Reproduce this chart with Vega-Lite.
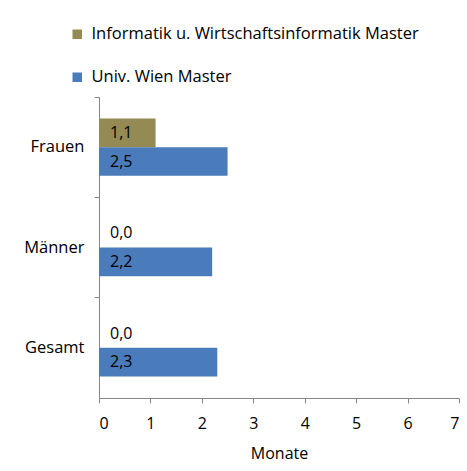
{
  "$schema": "https://vega.github.io/schema/vega-lite/v6.json",
  "width": 360,
  "height": 301,
  "autosize": {"type": "none"},
  "padding": {"left": 99, "top": 97, "right": 8, "bottom": 73},
  "config": {
    "locale": {"number": {"decimal": ",", "thousands": ".", "grouping": [3], "currency": ["", " €"]}},
    "view": {"stroke": null},
    "font": "Open Sans"
  },
  "data": {
    "values": [
      {"Gruppe": "Frauen", "Studium": "Informatik u. Wirtschaftsinformatik Master", "Monate": 1.1},
      {"Gruppe": "Frauen", "Studium": "Univ. Wien Master", "Monate": 2.5},
      {"Gruppe": "Männer", "Studium": "Informatik u. Wirtschaftsinformatik Master", "Monate": 0.0},
      {"Gruppe": "Männer", "Studium": "Univ. Wien Master", "Monate": 2.2},
      {"Gruppe": "Gesamt", "Studium": "Informatik u. Wirtschaftsinformatik Master", "Monate": 0.0},
      {"Gruppe": "Gesamt", "Studium": "Univ. Wien Master", "Monate": 2.3}
    ]
  },
  "encoding": {
    "y": {
      "field": "Gruppe", "type": "nominal", "sort": ["Frauen", "Männer", "Gesamt"],
      "scale": {"paddingInner": 0, "paddingOuter": 0},
      "axis": {
        "title": null, "domainColor": "#868686", "tickColor": "#868686", "tickSize": 5,
        "bandPosition": 0, "labelPadding": 10, "labelFontSize": 16.5, "labelColor": "#000000"
      }
    },
    "yOffset": {
      "field": "Studium", "type": "nominal",
      "sort": ["Informatik u. Wirtschaftsinformatik Master", "Univ. Wien Master"],
      "scale": {"paddingInner": 0, "paddingOuter": 0.75}
    }
  },
  "layer": [
    {
      "mark": {"type": "bar"},
      "encoding": {
        "x": {
          "field": "Monate", "type": "quantitative",
          "scale": {"domain": [0, 7], "nice": false},
          "axis": {
            "values": [0, 1, 2, 3, 4, 5, 6, 7], "grid": false, "format": "d",
            "domainColor": "#868686", "tickColor": "#868686", "tickSize": 5,
            "labelPadding": 12, "labelFontSize": 16, "labelColor": "#000000",
            "title": "Monate", "titleFontSize": 16, "titleFontWeight": "normal",
            "titleColor": "#000000", "titlePadding": 14
          }
        },
        "color": {
          "field": "Studium", "type": "nominal",
          "scale": {
            "domain": ["Informatik u. Wirtschaftsinformatik Master", "Univ. Wien Master"],
            "range": ["#948A54", "#4A7BBA"]
          },
          "legend": {
            "title": null, "orient": "none", "legendX": -30, "legendY": -71,
            "direction": "vertical", "symbolType": "square", "symbolSize": 90,
            "symbolStrokeWidth": 0, "labelFontSize": 16.5, "labelColor": "#000000",
            "rowPadding": 26, "labelOffset": 6, "labelLimit": 0
          }
        }
      }
    },
    {
      "mark": {"type": "text", "align": "left", "baseline": "middle", "dx": 11, "fontSize": 16, "color": "#000000"},
      "encoding": {
        "x": {"datum": 0, "type": "quantitative"},
        "text": {"field": "Monate", "type": "quantitative", "format": ".1f"}
      }
    }
  ]
}
